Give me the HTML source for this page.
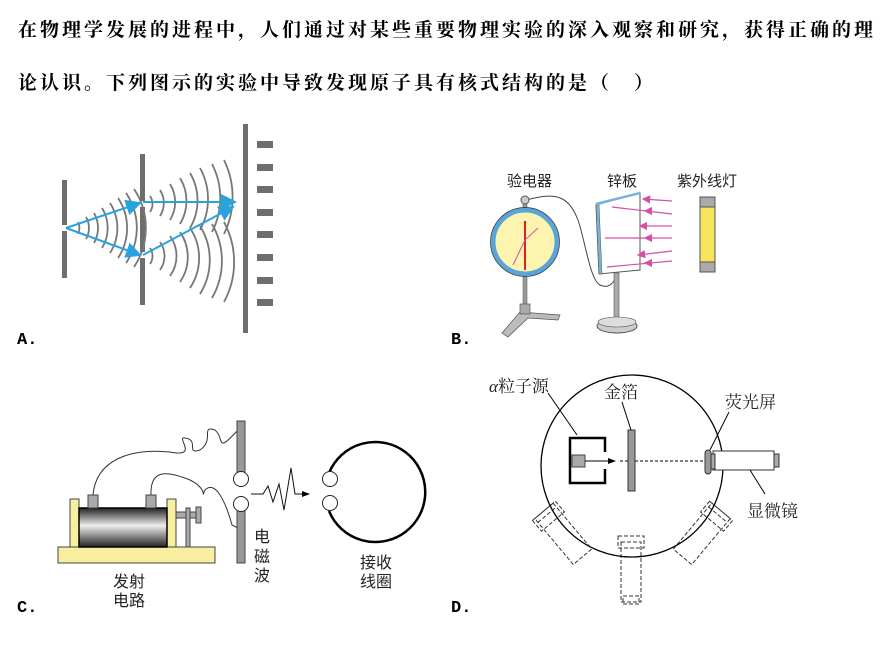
<!DOCTYPE html>
<html><head><meta charset="utf-8"><style>
body{margin:0;background:#fff;}
.t{position:absolute;left:18px;font:bold 19px "Liberation Sans","Noto Serif CJK SC","Noto Sans CJK SC",serif;letter-spacing:3px;white-space:nowrap;color:#000}
</style></head><body>
<div style="position:relative;width:895px;height:666px;overflow:hidden">
<div class="t" style="top:15px">在物理学发展的进程中，人们通过对某些重要物理实验的深入观察和研究，获得正确的理</div>
<div class="t" style="top:68px">论认识。下列图示的实验中导致发现原子具有核式结构的是（　）</div>
<svg width="895" height="666" style="position:absolute;left:0;top:0" font-family="Liberation Sans, Noto Sans CJK SC, sans-serif">
<defs>
<marker id="ab" markerWidth="8" markerHeight="8" refX="7" refY="4" orient="auto"><path d="M0,0 L8,4 L0,8 Z" fill="#29a3dd"/></marker>
<marker id="ap" markerWidth="7" markerHeight="7" refX="6" refY="3.5" orient="auto"><path d="M0,0 L7,3.5 L0,7 Z" fill="#d64fa6"/></marker>
<marker id="ak" markerWidth="8" markerHeight="8" refX="7" refY="4" orient="auto"><path d="M0,1 L8,4 L0,7 Z" fill="#000"/></marker>
</defs>
<!-- A -->
<g fill="#6e6e6e">
<rect x="62" y="180" width="5" height="45"/><rect x="62" y="231" width="5" height="47"/>
<rect x="140" y="154" width="5" height="47"/><rect x="140" y="207" width="5" height="45"/><rect x="140" y="258" width="5" height="47"/>
<rect x="243" y="124" width="5" height="209"/>
<rect x="257" y="141" width="16" height="7"/><rect x="257" y="164" width="16" height="7"/><rect x="257" y="186" width="16" height="7"/><rect x="257" y="209" width="16" height="7"/><rect x="257" y="231" width="16" height="7"/><rect x="257" y="254" width="16" height="7"/><rect x="257" y="277" width="16" height="7"/><rect x="257" y="299" width="16" height="7"/>
</g>
<g fill="none" stroke="#777" stroke-width="1.8">
<path d="M78,222 A14,14 0 0 1 78,234"/><path d="M86,217 A22,22 0 0 1 86,239"/><path d="M94,213 A30,30 0 0 1 94,243"/><path d="M102,208 A38,38 0 0 1 102,248"/><path d="M110,203 A46,46 0 0 1 110,253"/><path d="M118,198 A54,54 0 0 1 118,258"/><path d="M126,193 A62,62 0 0 1 126,263"/><path d="M134,189 A70,70 0 0 1 134,267"/>
<path d="M150,196 A14,14 0 0 1 150,212"/><path d="M160,190 A24,24 0 0 1 160,216"/><path d="M170,184 A34,34 0 0 1 170,220"/><path d="M180,178 A44,44 0 0 1 180,224"/><path d="M190,173 A54,54 0 0 1 190,228"/><path d="M200,168 A64,64 0 0 1 200,230"/><path d="M212,164 A74,74 0 0 1 212,232"/><path d="M224,160 A84,84 0 0 1 224,234"/>
<path d="M150,248 A14,14 0 0 1 150,264"/><path d="M160,242 A24,24 0 0 1 160,270"/><path d="M170,236 A34,34 0 0 1 170,276"/><path d="M180,232 A44,44 0 0 1 180,282"/><path d="M190,228 A54,54 0 0 1 190,288"/><path d="M200,226 A64,64 0 0 1 200,294"/><path d="M212,224 A74,74 0 0 1 212,298"/><path d="M224,222 A84,84 0 0 1 224,302"/>
</g>
<g stroke="#29a3dd" stroke-width="2" fill="none">
<line x1="66" y1="228" x2="140" y2="203" marker-end="url(#ab)"/>
<line x1="66" y1="228" x2="140" y2="255" marker-end="url(#ab)"/>
<line x1="143" y1="202" x2="235" y2="202" marker-end="url(#ab)"/>
<line x1="143" y1="255" x2="233" y2="207" marker-end="url(#ab)"/>
</g>
<!-- B -->
<g font-size="15" fill="#222"><text x="507" y="186">验电器</text><text x="607" y="186">锌板</text><text x="677" y="186">紫外线灯</text></g>
<path d="M527,200 C560,190 570,200 578,220 C585,240 590,280 600,285 C610,290 615,280 617,275" fill="none" stroke="#444" stroke-width="1"/>
<rect x="523" y="200" width="4" height="108" fill="#999" stroke="#555" stroke-width="0.5"/>
<circle cx="525" cy="200" r="4" fill="#ccc" stroke="#555"/>
<circle cx="525" cy="242" r="32" fill="#fdf4b0" stroke="#5aa4d9" stroke-width="5"/>
<circle cx="525" cy="242" r="34.5" fill="none" stroke="#333" stroke-width="0.7"/>
<line x1="525" y1="221" x2="525" y2="270" stroke="#e02020" stroke-width="2"/>
<path d="M513,265 L525,240 L538,228" stroke="#d64fa6" stroke-width="1" fill="none"/>
<path d="M502,333 L520,312 L560,315 L558,320 L528,318 L508,337 Z" fill="#bbb" stroke="#555" stroke-width="0.7"/>
<rect x="520" y="304" width="10" height="10" fill="#aaa" stroke="#555" stroke-width="0.7"/>
<polygon points="596,205 640,193 640,270 599,274" fill="#fff" stroke="#555"/>
<polygon points="596,205 599,204 602,274 599,274" fill="#7ab3da" stroke="#555" stroke-width="0.5"/>
<line x1="596" y1="204" x2="640" y2="193" stroke="#7ab3da" stroke-width="2.5"/>
<rect x="614" y="273" width="5" height="45" fill="#aaa" stroke="#555" stroke-width="0.6"/>
<ellipse cx="617" cy="326" rx="20" ry="7" fill="#ccc" stroke="#555"/><ellipse cx="617" cy="322" rx="19" ry="5" fill="#ddd" stroke="#555" stroke-width="0.6"/>
<g stroke="#d64fa6" stroke-width="1.2">
<line x1="672" y1="201" x2="643" y2="199" marker-end="url(#ap)"/><line x1="672" y1="214" x2="612" y2="207"/><line x1="648" y1="211" x2="645" y2="211" marker-end="url(#ap)"/>
<line x1="672" y1="226" x2="640" y2="226" marker-end="url(#ap)"/><line x1="672" y1="238" x2="605" y2="238"/><line x1="650" y1="238" x2="645" y2="238" marker-end="url(#ap)"/>
<line x1="672" y1="251" x2="638" y2="255" marker-end="url(#ap)"/><line x1="672" y1="261" x2="607" y2="267"/><line x1="650" y1="263" x2="645" y2="263" marker-end="url(#ap)"/>
</g>
<rect x="700" y="197" width="15" height="75" rx="2" fill="#f7e45a" stroke="#555"/>
<rect x="700" y="197" width="15" height="10" fill="#aaa" stroke="#555"/><rect x="700" y="262" width="15" height="10" fill="#aaa" stroke="#555"/>
<!-- C -->
<path d="M93,495 C96,460 130,448 170,452 C200,458 175,436 185,438 C200,440 185,455 200,450 C215,440 200,425 215,430 C225,438 215,455 238,430" fill="none" stroke="#333" stroke-width="1"/>
<path d="M151,495 C150,470 165,470 190,480 C210,490 200,500 205,490 C215,480 225,500 232,525 L238,528" fill="none" stroke="#333" stroke-width="1"/>
<rect x="58" y="547" width="157" height="16" fill="#f8eea0" stroke="#444"/>
<rect x="70" y="499" width="9" height="48" fill="#f8eea0" stroke="#444"/><rect x="167" y="499" width="9" height="48" fill="#f8eea0" stroke="#444"/>
<defs><linearGradient id="cy" x1="0" y1="0" x2="0" y2="1"><stop offset="0" stop-color="#222"/><stop offset="0.45" stop-color="#eee"/><stop offset="1" stop-color="#222"/></linearGradient></defs>
<rect x="79" y="508" width="88" height="39" fill="url(#cy)" stroke="#000" stroke-width="1.5"/>
<rect x="88" y="495" width="10" height="13" fill="#aaa" stroke="#444"/><rect x="146" y="495" width="10" height="13" fill="#aaa" stroke="#444"/>
<rect x="176" y="512" width="22" height="6" fill="#aaa" stroke="#444"/><rect x="186" y="508" width="4" height="39" fill="#aaa" stroke="#444"/><rect x="196" y="507" width="5" height="16" fill="#aaa" stroke="#444"/>
<rect x="237" y="421" width="8" height="56" fill="#999" stroke="#444"/><rect x="237" y="510" width="8" height="53" fill="#999" stroke="#444"/>
<circle cx="241" cy="479" r="7.5" fill="#fff" stroke="#222"/><circle cx="241" cy="504" r="7.5" fill="#fff" stroke="#222"/>
<path d="M251,494 L263,494 L268,486 L273,502 L279,484 L284,510 L291,468 L295,494 L305,494" fill="none" stroke="#111" stroke-width="1"/>
<line x1="295" y1="494" x2="309" y2="494" stroke="#111" marker-end="url(#ak)"/>
<path d="M329,473 A50,50 0 1 1 329,511" fill="none" stroke="#000" stroke-width="2.5"/>
<circle cx="330" cy="479" r="7.5" fill="#fff" stroke="#222"/><circle cx="330" cy="503" r="7.5" fill="#fff" stroke="#222"/>
<g font-size="16" fill="#222"><text x="254" y="542">电</text><text x="254" y="562">磁</text><text x="254" y="581">波</text>
<text x="113" y="587">发射</text><text x="113" y="606">电路</text><text x="360" y="568">接收</text><text x="360" y="587">线圈</text></g>
<!-- D -->
<g fill="none" stroke="#333" stroke-dasharray="4 2" stroke-width="1">
<g transform="rotate(-40 560 530)"><rect x="548" y="505" width="24" height="60"/><rect x="545" y="505" width="30" height="14"/><line x1="548" y1="510" x2="572" y2="510"/></g>
<g transform="rotate(40 705 530)"><rect x="693" y="505" width="24" height="60"/><rect x="690" y="505" width="30" height="14"/><line x1="693" y1="510" x2="717" y2="510"/></g>
<rect x="621" y="542" width="20" height="60"/><rect x="618" y="536" width="26" height="12"/><rect x="623" y="596" width="16" height="8"/>
</g>
<circle cx="632" cy="466" r="91" fill="none" stroke="#000" stroke-width="1.3"/>
<path d="M605,452 V438 H570 V483 H605 V469" fill="none" stroke="#000" stroke-width="2.5"/>
<rect x="572" y="455" width="13" height="12" fill="#aaa" stroke="#444"/>
<line x1="585" y1="461" x2="615" y2="461" stroke="#000" marker-end="url(#ak)"/>
<line x1="620" y1="461" x2="774" y2="461" stroke="#000" stroke-dasharray="3 2"/>
<rect x="628" y="430" width="7" height="61" fill="#999" stroke="#333"/>
<rect x="713" y="451" width="61" height="19" fill="#fff" stroke="#333"/>
<rect x="709" y="454" width="6" height="15" fill="#aaa" stroke="#333"/>
<rect x="705" y="450" width="6" height="24" rx="3" fill="#999" stroke="#333"/>
<rect x="774" y="454" width="5" height="13" fill="#aaa" stroke="#333"/>
<line x1="548" y1="393" x2="577" y2="435" stroke="#000"/><line x1="622" y1="402" x2="631" y2="430" stroke="#000"/>
<line x1="729" y1="412" x2="710" y2="450" stroke="#000"/><line x1="750" y1="470" x2="765" y2="494" stroke="#000"/>
<g font-size="17" fill="#222" font-family="Liberation Serif, Noto Serif CJK SC, serif"><text x="489" y="392"><tspan font-style="italic">α</tspan>粒子源</text><text x="604" y="398">金箔</text><text x="725" y="408">荧光屏</text><text x="747" y="517">显微镜</text></g>
<!-- option labels -->
<g font-family="Liberation Mono, monospace" font-weight="bold" font-size="17" fill="#000"><text x="17" y="344">A.</text><text x="451" y="344">B.</text><text x="17" y="612">C.</text><text x="451" y="612">D.</text></g>
</svg>
</div>
</body></html>
